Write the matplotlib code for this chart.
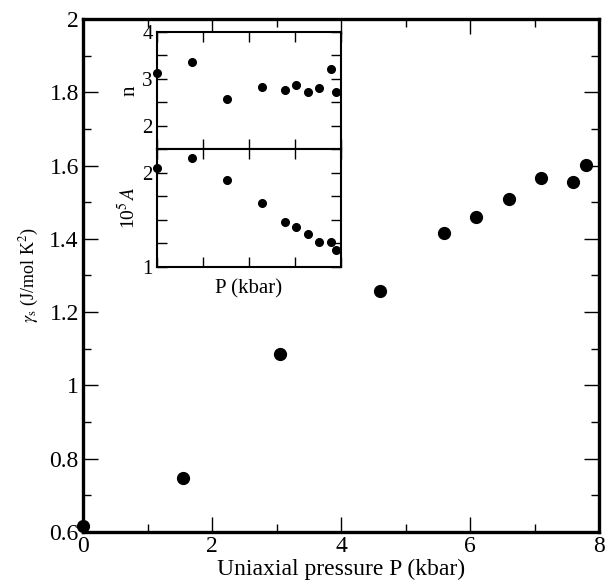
import numpy as np
import matplotlib
matplotlib.use('Agg')
import matplotlib.pyplot as plt
from matplotlib.ticker import MultipleLocator

plt.rcParams['font.family'] = ['Liberation Serif', 'DejaVu Serif']
plt.rcParams['mathtext.fontset'] = 'stix'

# data
pressure = [0.0, 1.55, 3.05, 4.6, 5.6, 6.1, 6.6, 7.1, 7.6, 7.8]
gamma_s = [0.617, 0.747, 1.085, 1.259, 1.415, 1.459, 1.508, 1.565, 1.556, 1.601]

p_inset = [0.0, 1.53, 3.03, 4.58, 5.57, 6.04, 6.57, 7.06, 7.57, 7.78]
n_exp = [3.13, 3.36, 2.56, 2.83, 2.77, 2.86, 2.71, 2.81, 3.21, 2.71]
a_coef = [2.05, 2.15, 1.92, 1.68, 1.48, 1.42, 1.35, 1.26, 1.26, 1.18]

fig = plt.figure(figsize=(6.15, 5.87), dpi=100)

# main panel
ax = fig.add_axes([0.135, 0.0937, 0.839, 0.874])
ax.plot(pressure, gamma_s, 'o', color='black', markersize=8.5, clip_on=False, zorder=5)
ax.set_xlim(0, 8)
ax.set_ylim(0.6, 2.0)
ax.xaxis.set_major_locator(MultipleLocator(2))
ax.xaxis.set_minor_locator(MultipleLocator(1))
ax.yaxis.set_minor_locator(MultipleLocator(0.1))
ax.set_yticks([0.6, 0.8, 1.0, 1.2, 1.4, 1.6, 1.8, 2.0])
ax.set_yticklabels(['0.6', '0.8', '1', '1.2', '1.4', '1.6', '1.8', '2'])
ax.tick_params(which='both', direction='in', top=True, right=True, labelsize=17, width=1.0, pad=3)
ax.tick_params(which='major', length=11)
ax.tick_params(which='minor', length=6)
for s in ax.spines.values():
    s.set_linewidth(2.4)
ax.set_xlabel('Uniaxial pressure P (kbar)', fontsize=17, labelpad=1)
ax.set_ylabel(r'$\gamma_{\rm s}$ (J/mol K$^2$)', fontsize=13, labelpad=6)

# inset, upper part: n
ax_n = fig.add_axes([0.2553, 0.7462, 0.2992, 0.1993])
ax_n.plot(p_inset, n_exp, 'o', color='black', markersize=5.5, clip_on=False, zorder=5)
ax_n.set_xlim(0, 8)
ax_n.set_ylim(1.5, 4)
ax_n.set_yticks([2, 3, 4])
ax_n.yaxis.set_minor_locator(MultipleLocator(0.5))
ax_n.xaxis.set_major_locator(MultipleLocator(2))
ax_n.set_xticklabels([])
ax_n.set_ylabel('n', fontsize=15, labelpad=2)

# inset, lower part: 10^5 A
ax_a = fig.add_axes([0.2553, 0.5451, 0.2992, 0.2011])
ax_a.plot(p_inset, a_coef, 'o', color='black', markersize=5.5, clip_on=False, zorder=5)
ax_a.set_xlim(0, 8)
ax_a.set_ylim(1, 2.25)
ax_a.set_yticks([1, 2])
ax_a.yaxis.set_minor_locator(MultipleLocator(0.25))
ax_a.xaxis.set_major_locator(MultipleLocator(2))
ax_a.set_xticklabels([])
ax_a.set_xlabel('P (kbar)', fontsize=15, labelpad=6)
ax_a.set_ylabel(r'10$^5\,A$', fontsize=14, labelpad=2)

for a in (ax_n, ax_a):
    a.tick_params(which='both', direction='in', top=True, right=True, labelsize=15, width=1.0, pad=3)
    a.tick_params(which='major', length=7)
    a.tick_params(which='minor', length=7)
    for s in a.spines.values():
        s.set_linewidth(1.5)

fig.savefig('out.png', dpi=100)
